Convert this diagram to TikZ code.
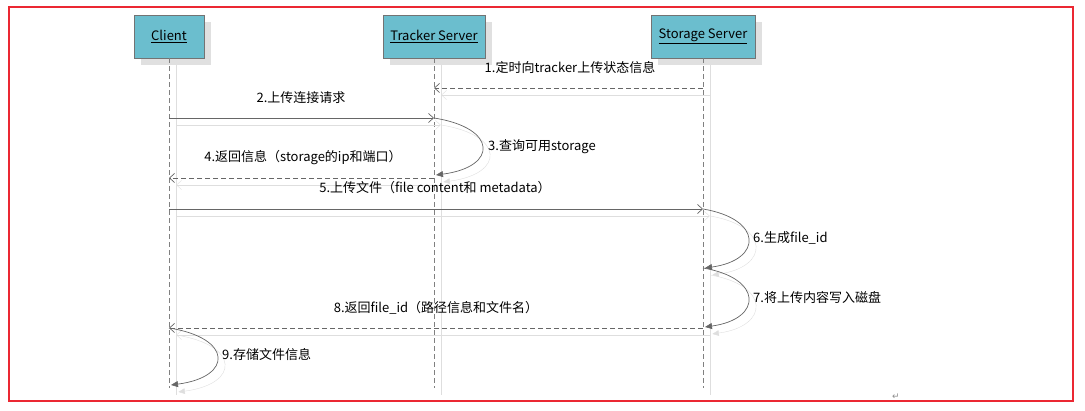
\documentclass[tikz,border=0pt]{standalone}
\usepackage{fontspec}
\setmainfont{Noto Sans CJK SC}
\newfontfamily\symfont{DejaVu Sans}
\usetikzlibrary{arrows.meta,shadows}

\definecolor{boxblue}{RGB}{107,190,206}
\definecolor{framered}{RGB}{235,40,50}

\tikzset{
  ghost/.style={preaction={draw=black!13, transform canvas={shift={(7pt,-7pt)}}}},
  actor/.style={rectangle, draw=black!55, fill=boxblue, minimum height=43pt,
    general shadow={fill=black!12, shadow xshift=7pt, shadow yshift=-7pt},
    font=\fontsize{13}{15}\selectfont},
  lifeline/.style={draw=black!50, line width=0.6pt, dash pattern=on 5pt off 3pt, ghost},
  msg/.style={draw=black!60, line width=0.7pt, -{Straight Barb[length=5pt,width=9pt]}, ghost},
  reply/.style={msg, dash pattern=on 5pt off 3pt},
  selfmsg/.style={draw=black!60, line width=0.7pt, -{Triangle[length=7pt,width=6pt]}, ghost},
  label/.style={font=\fontsize{13}{15}\selectfont, inner sep=1pt}
}

\begin{document}
\begin{tikzpicture}[x=1pt, y=-1pt]
  \useasboundingbox (0,0) rectangle (1085,411);
  % draw red frame
  \draw[framered, line width=2pt] (9,7) rectangle (1073,401);
  % draw actor boxes
  \node[actor, minimum width=70pt] (client) at (169,36.5) {\underline{Client}};
  \node[actor, minimum width=102pt] (tracker) at (434,36.5) {\underline{Tracker Server}};
  \node[actor, minimum width=104pt] (storage) at (703,36.5) {\underline{Storage Server}};
  % draw lifelines
  \coordinate (client_end) at (169,388);
  \coordinate (tracker_end) at (434,388);
  \coordinate (storage_end) at (703,388);
  \draw[lifeline] (client) -- (client_end);
  \draw[lifeline] (tracker) -- (tracker_end);
  \draw[lifeline] (storage) -- (storage_end);
  % message points on the lifelines
  \coordinate (msg1_from) at (703,88);
  \coordinate (msg1_to) at (434,88);
  \coordinate (msg2_from) at (169,118);
  \coordinate (msg2_to) at (434,118);
  \coordinate (msg3_to) at (436,175);
  \coordinate (msg4_from) at (434,178);
  \coordinate (msg4_to) at (169,178);
  \coordinate (msg5_from) at (169,209);
  \coordinate (msg5_to) at (703,209);
  \coordinate (msg6_to) at (705,268);
  \coordinate (msg7_from) at (703,268);
  \coordinate (msg7_to) at (705,327);
  \coordinate (msg8_from) at (703,328);
  \coordinate (msg8_to) at (169,328);
  \coordinate (msg9_to) at (171,385);
  % draw messages
  \draw[reply] (msg1_from) -- (msg1_to);
  \draw[msg] (msg2_from) -- (msg2_to);
  \draw[selfmsg] (msg2_to) .. controls +(64,10) and +(62,-8) .. (msg3_to);
  \draw[reply] (msg4_from) -- (msg4_to);
  \draw[msg] (msg5_from) -- (msg5_to);
  \draw[selfmsg] (msg5_to) .. controls +(60,10) and +(58,-8) .. (msg6_to);
  \draw[selfmsg] (msg7_from) .. controls +(60,10) and +(58,-8) .. (msg7_to);
  \draw[reply] (msg8_from) -- (msg8_to);
  \draw[selfmsg] (msg8_to) .. controls +(64,10) and +(62,-8) .. (msg9_to);
  % draw message labels
  \node[label] (lbl1) at (570,68) {1.定时向tracker上传状态信息};
  \node[label] (lbl2) at (301,98) {2.上传连接请求};
  \node[label, anchor=west] (lbl3) at (487,147) {3.查询可用storage};
  \node[label] (lbl4) at (303,158) {4.返回信息（storage的ip和端口）};
  \node[label] (lbl5) at (435,188) {5.上传文件（file content和 metadata）};
  \node[label, anchor=west] (lbl6) at (752,238) {6.生成file\_id};
  \node[label, anchor=west] (lbl7) at (752,298) {7.将上传内容写入磁盘};
  \node[label] (lbl8) at (436,308) {8.返回file\_id（路径信息和文件名）};
  \node[label, anchor=west] (lbl9) at (221,355) {9.存储文件信息};
  \node[font=\symfont\fontsize{9}{10}\selectfont, text=black!45, inner sep=0pt] (mark) at (896,397) {↵};
\end{tikzpicture}
\end{document}
